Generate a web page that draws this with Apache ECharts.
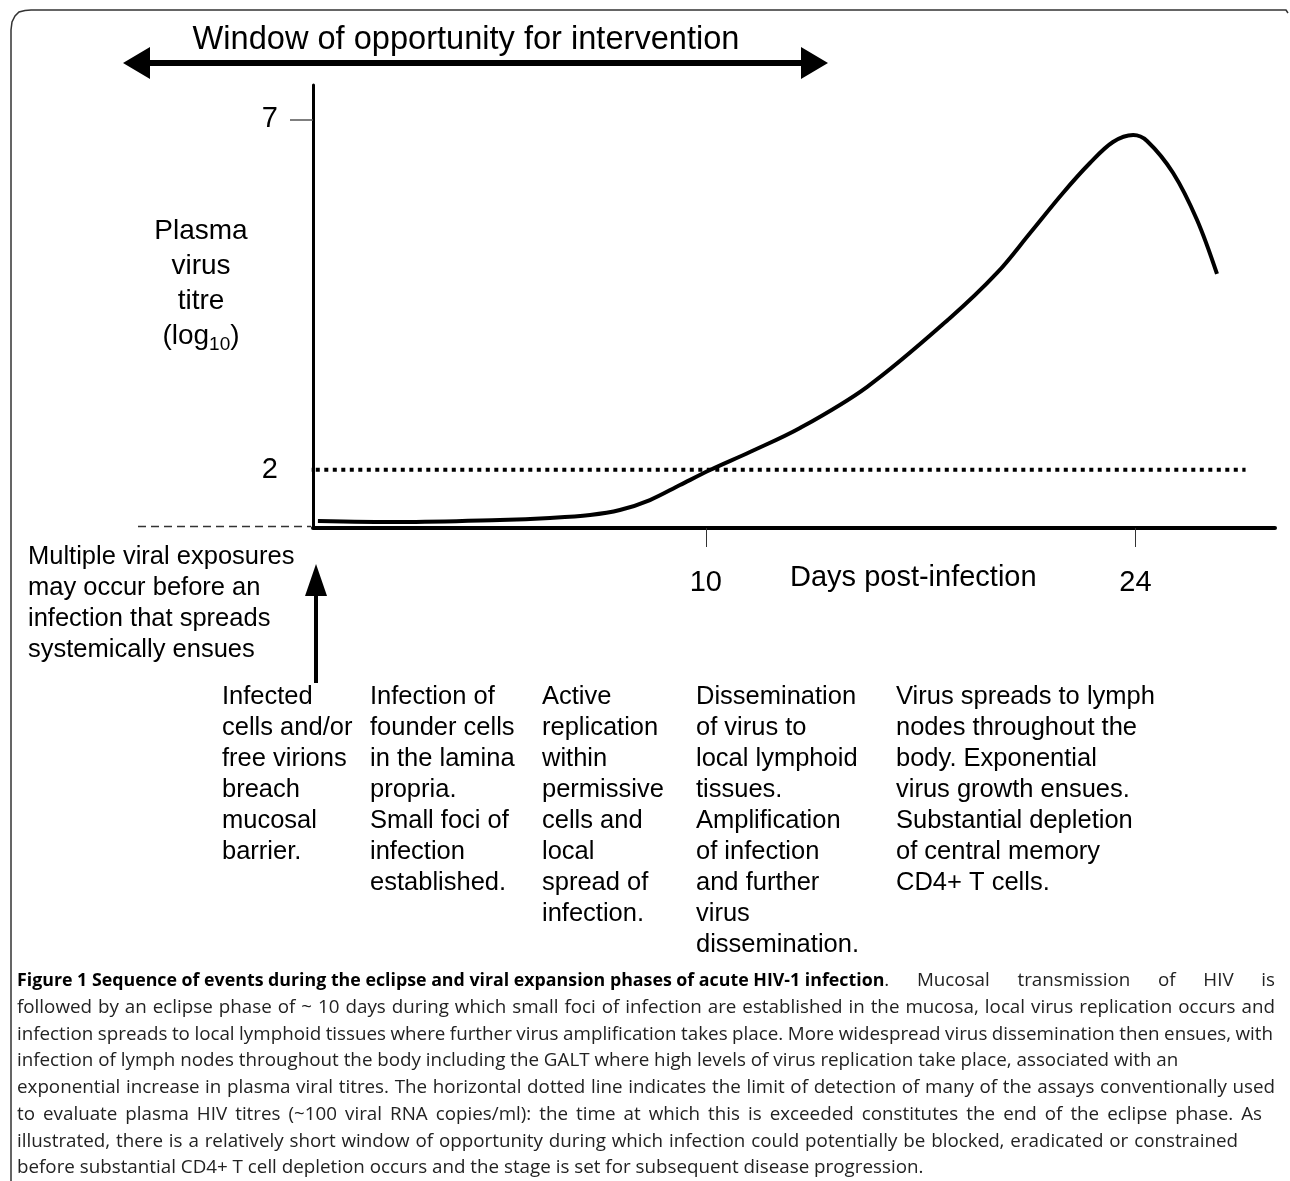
<!DOCTYPE html>
<html>
<head>
<meta charset="utf-8">
<title>HIV eclipse phase</title>
<script src="https://cdn.jsdelivr.net/npm/echarts@6/dist/echarts.min.js"></script>
<style>
  html, body { margin: 0; padding: 0; background: #fff; }
  #chart { width: 1290px; height: 1181px; }
</style>
</head>
<body>
<div id="chart"></div>
<script>
// curve (days post-infection, log10 titre)
const days = [-2.64, 0.04, 3.29, 4.92, 6.23, 7.2, 8.18, 9.16, 10.14, 11.44, 13.07, 15.25, 17.96, 19.49, 20.57, 21.64, 22.52, 23.27, 23.93, 24.38, 25.23, 26.01, 26.66];
const titre = [1.27, 1.255, 1.284, 1.313, 1.355, 1.426, 1.569, 1.783, 1.997, 2.254, 2.596, 3.181, 4.166, 4.808, 5.379, 5.95, 6.377, 6.677, 6.777, 6.692, 6.235, 5.564, 4.794];

// detection limit (dotted line)
const detectionLimit = 2;
const limitDays = [-3.54, 27.59];

// tick labels
const xTicks = [10, 24];
const yTicks = [2, 7];
const yTickMarks = [7];

const topLabel = 'Window of opportunity for intervention';
const xName = 'Days post-infection';
const yName = 'Plasma\nvirus\ntitre\n(log{sub|10})';
const exposureNote = 'Multiple viral exposures\nmay occur before an\ninfection that spreads\nsystemically ensues';

const stageNotes = [
  'Infected\ncells and/or\nfree virions\nbreach\nmucosal\nbarrier.',
  'Infection of\nfounder cells\nin the lamina\npropria.\nSmall foci of\ninfection\nestablished.',
  'Active\nreplication\nwithin\npermissive\ncells and\nlocal\nspread of\ninfection.',
  'Dissemination\nof virus to\nlocal lymphoid\ntissues.\nAmplification\nof infection\nand further\nvirus\ndissemination.',
  'Virus spreads to lymph\nnodes throughout the\nbody. Exponential\nvirus growth ensues.\nSubstantial depletion\nof central memory\nCD4+ T cells.'
];
const stageX = [222, 370, 542, 696, 896];

const captionBold = 'Figure 1 Sequence of events during the eclipse and viral expansion phases of acute HIV-1 infection';
const captionLines = [
  '. Mucosal transmission of HIV is',
  'followed by an eclipse phase of ~ 10 days during which small foci of infection are established in the mucosa, local virus replication occurs and',
  'infection spreads to local lymphoid tissues where further virus amplification takes place. More widespread virus dissemination then ensues, with',
  'infection of lymph nodes throughout the body including the GALT where high levels of virus replication take place, associated with an',
  'exponential increase in plasma viral titres. The horizontal dotted line indicates the limit of detection of many of the assays conventionally used',
  'to evaluate plasma HIV titres (~100 viral RNA copies/ml): the time at which this is exceeded constitutes the end of the eclipse phase. As',
  'illustrated, there is a relatively short window of opportunity during which infection could potentially be blocked, eradicated or constrained',
  'before substantial CD4+ T cell depletion occurs and the stage is set for subsequent disease progression.'
];
// right edge of each justified caption line, null = ragged
const captionEnds = [1275, 1275, 1273, null, 1275, 1262, 1238, null];

const sans = 'Liberation Sans, Arial, sans-serif';
const capFont = 'Open Sans, sans-serif';
const capSize = 18.8;
const capBoldSize = 17.8;

const chart = echarts.init(document.getElementById('chart'), null, { renderer: 'canvas' });

let curve = days.map((d, i) => [d, titre[i]]);

// text blocks and decorations
let graphics = [];

// frame round the figure
graphics.push({
  type: 'polyline',
  shape: { points: [[11, 1181], [11, 30], [12, 22], [15, 16], [19, 12], [25, 10.5], [31, 10], [1286, 10], [1288, 13]] },
  style: { stroke: '#333', lineWidth: 1.5, fill: null }
});

// window arrow
graphics.push({ type: 'line', shape: { x1: 145, y1: 63, x2: 806, y2: 63 }, style: { stroke: '#000', lineWidth: 6 } });
graphics.push({ type: 'polygon', shape: { points: [[123, 63], [150, 47], [150, 79]] }, style: { fill: '#000' } });
graphics.push({ type: 'polygon', shape: { points: [[828, 63], [801, 47], [801, 79]] }, style: { fill: '#000' } });
graphics.push({
  type: 'text', x: 466, y: 40,
  style: { text: topLabel, fill: '#000', fontSize: 32.6, fontFamily: sans, align: 'center', verticalAlign: 'middle' }
});

// y axis title
graphics.push({
  type: 'text', x: 201, y: 214,
  style: {
    text: yName, fill: '#000', fontSize: 28, fontFamily: sans, lineHeight: 35,
    align: 'center', verticalAlign: 'top',
    rich: { sub: { fontSize: 19, fontFamily: sans, verticalAlign: 'bottom', lineHeight: 35, padding: [10, 0, 0, 0] } }
  }
});

// dashed baseline left of the axis
graphics.push({ type: 'line', shape: { x1: 138, y1: 526.5, x2: 311, y2: 526.5 }, style: { stroke: '#333', lineWidth: 1.5, lineDash: [8, 5] } });

// exposure arrow
graphics.push({ type: 'line', shape: { x1: 316, y1: 592, x2: 316, y2: 683 }, style: { stroke: '#000', lineWidth: 4 } });
graphics.push({ type: 'polygon', shape: { points: [[316, 564], [305, 596], [327, 596]] }, style: { fill: '#000' } });
graphics.push({
  type: 'text', x: 28, y: 541,
  style: { text: exposureNote, fill: '#000', fontSize: 25.5, fontFamily: sans, lineHeight: 31, align: 'left', verticalAlign: 'top' }
});

// x axis name
graphics.push({
  type: 'text', x: 790, y: 578,
  style: { text: xName, fill: '#000', fontSize: 29, fontFamily: sans, align: 'left', verticalAlign: 'middle' }
});

// stage notes under the chart
stageNotes.forEach((t, i) => {
  graphics.push({
    type: 'text', x: stageX[i], y: 681,
    style: { text: t, fill: '#000', fontSize: 25.5, fontFamily: sans, lineHeight: 31, align: 'left', verticalAlign: 'top' }
  });
});

// caption, word by word so justified lines can be spread out
const ctx = document.createElement('canvas').getContext('2d');
function textWidth(t, bold) {
  ctx.font = (bold ? 'bold ' + capBoldSize : capSize) + 'px "Open Sans"';
  return ctx.measureText(t).width;
}
const spaceW = textWidth(' ', false);
const boldSpaceW = textWidth(' ', true);

captionLines.forEach((line, i) => {
  let words = [];
  if (i === 0) {
    // bold title keeps its own spacing
    captionBold.split(' ').forEach(w => words.push({ text: w, bold: true, w: textWidth(w, true), fixed: true }));
  }
  line.split(' ').forEach((w, k) => {
    if (i === 0 && k === 0) {
      // the full stop sits right after the bold title
      let last = words[words.length - 1];
      last.tail = w;
      last.w += textWidth(w, false);
      last.fixed = false;
    } else {
      words.push({ text: w, bold: false, w: textWidth(w, false), fixed: false });
    }
  });
  let total = 0;
  let fixedGaps = 0;
  let flexGaps = 0;
  words.forEach((o, k) => {
    total += o.w;
    if (k < words.length - 1) {
      if (o.fixed) fixedGaps += boldSpaceW; else flexGaps++;
    }
  });
  let gap = spaceW;
  if (captionEnds[i] != null && flexGaps > 0) {
    gap = (captionEnds[i] - 17 - total - fixedGaps) / flexGaps;
  }
  let x = 17;
  words.forEach(o => {
    let txt = o.bold ? '{b|' + o.text + '}' + (o.tail || '') : o.text;
    graphics.push({
      type: 'text', x: x, y: 981 + i * 26.7,
      style: {
        text: txt, fill: '#222', fontSize: capSize, fontFamily: capFont, align: 'left', verticalAlign: 'middle',
        rich: { b: { fontSize: capBoldSize, fontFamily: capFont, fontWeight: 'bold', fill: '#000' } }
      }
    });
    x += o.w + (o.fixed ? boldSpaceW : gap);
  });
});

var option = {
  backgroundColor: '#ffffff',
  animation: false,
  grid: { left: 313, top: 85, width: 962, height: 443 },
  xAxis: {
    type: 'value',
    min: -2.8,
    max: 28.55,
    axisLine: { onZero: false, lineStyle: { color: '#000', width: 4 } },
    axisTick: { customValues: xTicks, length: 19, lineStyle: { color: '#333', width: 1 } },
    axisLabel: { customValues: xTicks, margin: 40, fontSize: 29, color: '#000', fontFamily: sans },
    splitLine: { show: false }
  },
  yAxis: {
    type: 'value',
    min: 1.17,
    max: 7.49,
    axisLine: { show: true, onZero: false, lineStyle: { color: '#000', width: 3 } },
    axisTick: { show: true, customValues: yTickMarks, length: 23, lineStyle: { color: '#555', width: 1.5 } },
    axisLabel: { customValues: yTicks, margin: 35, fontSize: 29, color: '#000', fontFamily: sans },
    splitLine: { show: false }
  },
  series: [
    {
      type: 'line',
      name: 'titre',
      data: curve,
      smooth: 0.35,
      symbol: 'none',
      lineStyle: { color: '#000', width: 4 },
      z: 3
    },
    {
      type: 'line',
      name: 'limit',
      data: limitDays.map(d => [d, detectionLimit]),
      clip: false,
      symbol: 'none',
      lineStyle: { color: '#000', width: 4, type: [4, 4.5], cap: 'butt' },
      z: 2
    }
  ],
  graphic: graphics
};
chart.setOption(option);
</script>
</body>
</html>
